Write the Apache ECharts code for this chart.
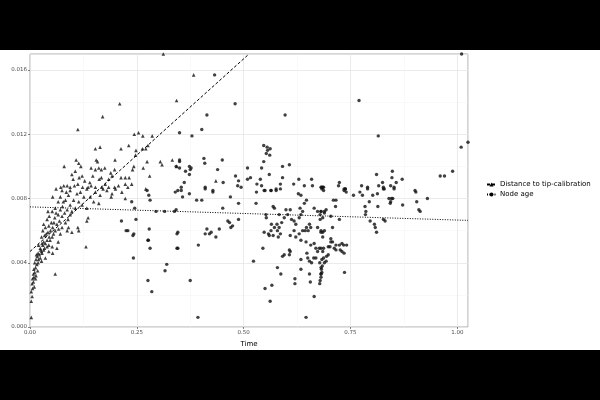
<!DOCTYPE html>
<html>
<head>
<meta charset="utf-8">
<script src="https://cdn.jsdelivr.net/npm/echarts@6/dist/echarts.min.js"></script>
<style>
  html, body { margin: 0; padding: 0; background: #fff; }
  #chart { width: 600px; height: 400px; }
</style>
</head>
<body>
<div id="chart"></div>
<script>
// axis ticks
var xTicks = [0, 0.25, 0.5, 0.75, 1.0]
var yTicks = [0, 0.004, 0.008, 0.012, 0.016]
var xMax = 1.025
var yMax = 0.017

// regression lines: [intercept, slope]
var tipFit = [0.0047, 0.024]
var nodeFit = [0.00748, -0.00082]

// Distance to tip-calibration (triangles)
var tipPoints = [
  [0.112, 0.0123], [0.170, 0.0131], [0.210, 0.0139], [0.343, 0.0141], [0.312, 0.0170],
  [0.383, 0.0157], [0.435, 0.0091],
  [0.244, 0.0120], [0.254, 0.0121], [0.264, 0.0119], [0.286, 0.0119],
  [0.153, 0.0111], [0.164, 0.0112], [0.213, 0.0111], [0.231, 0.0113], [0.248, 0.0110],
  [0.263, 0.0111], [0.271, 0.0111], [0.276, 0.0113], [0.080, 0.0100],
  [0.108, 0.0104], [0.114, 0.0102], [0.119, 0.0100],
  [0.143, 0.0099], [0.153, 0.0098], [0.161, 0.0099], [0.167, 0.0098], [0.175, 0.0099],
  [0.155, 0.0104], [0.158, 0.0103], [0.199, 0.0104], [0.247, 0.0107],
  [0.243, 0.0100], [0.240, 0.0098], [0.265, 0.0099], [0.274, 0.0103],
  [0.305, 0.0103], [0.309, 0.0101], [0.333, 0.0104], [0.343, 0.0100],
  [0.098, 0.0095], [0.106, 0.0097], [0.101, 0.0092], [0.115, 0.0093], [0.122, 0.0094],
  [0.147, 0.0094], [0.167, 0.0093], [0.162, 0.0092], [0.184, 0.0092], [0.189, 0.0096],
  [0.198, 0.0098], [0.192, 0.0094], [0.213, 0.0093], [0.223, 0.0093],
  [0.232, 0.0093], [0.238, 0.0089], [0.223, 0.0089], [0.280, 0.0094],
  [0.176, 0.0089], [0.168, 0.0087], [0.184, 0.0087], [0.198, 0.0087],
  [0.112, 0.0089], [0.123, 0.0087], [0.136, 0.0087], [0.143, 0.0088], [0.153, 0.0087],
  [0.061, 0.0086], [0.072, 0.0087], [0.079, 0.0088], [0.087, 0.0088], [0.094, 0.0087],
  [0.271, 0.0086], [0.229, 0.0087], [0.207, 0.0088],
  [0.003, 0.0006], [0.003, 0.0016], [0.005, 0.0019], [0.003, 0.0022], [0.006, 0.0024],
  [0.005, 0.0027], [0.008, 0.0028], [0.006, 0.0030], [0.009, 0.0031], [0.013, 0.0030],
  [0.008, 0.0033], [0.011, 0.0034], [0.014, 0.0032], [0.009, 0.0036], [0.013, 0.0037],
  [0.016, 0.0039], [0.011, 0.0040], [0.019, 0.0040], [0.014, 0.0042], [0.020, 0.0042],
  [0.017, 0.0044], [0.024, 0.0043], [0.022, 0.0045], [0.028, 0.0046], [0.019, 0.0046],
  [0.027, 0.0047], [0.032, 0.0048], [0.024, 0.0049], [0.034, 0.0049], [0.030, 0.0051],
  [0.040, 0.0050], [0.020, 0.0051], [0.028, 0.0052], [0.036, 0.0052], [0.044, 0.0051],
  [0.052, 0.0050], [0.063, 0.0049], [0.053, 0.0046], [0.032, 0.0053], [0.040, 0.0054],
  [0.027, 0.0056], [0.045, 0.0056], [0.034, 0.0057], [0.052, 0.0056], [0.066, 0.0053],
  [0.055, 0.0058], [0.042, 0.0059], [0.030, 0.0060], [0.048, 0.0060], [0.059, 0.0060],
  [0.036, 0.0062], [0.053, 0.0062], [0.067, 0.0061], [0.044, 0.0063], [0.063, 0.0064],
  [0.075, 0.0062], [0.032, 0.0064], [0.050, 0.0065], [0.069, 0.0066], [0.083, 0.0065],
  [0.040, 0.0067], [0.058, 0.0068], [0.075, 0.0069], [0.089, 0.0067], [0.045, 0.0069],
  [0.066, 0.0070], [0.081, 0.0071], [0.094, 0.0070], [0.052, 0.0072], [0.071, 0.0073],
  [0.087, 0.0073], [0.098, 0.0072], [0.042, 0.0072], [0.059, 0.0074], [0.076, 0.0075],
  [0.094, 0.0076], [0.106, 0.0074], [0.066, 0.0078], [0.083, 0.0079], [0.102, 0.0079],
  [0.114, 0.0078], [0.053, 0.0081], [0.071, 0.0081], [0.090, 0.0082], [0.110, 0.0083],
  [0.126, 0.0081], [0.141, 0.0081], [0.075, 0.0085], [0.094, 0.0085], [0.118, 0.0084],
  [0.133, 0.0086], [0.153, 0.0084], [0.164, 0.0082], [0.180, 0.0085], [0.192, 0.0083],
  [0.200, 0.0086], [0.149, 0.0078], [0.161, 0.0077], [0.122, 0.0076], [0.133, 0.0074],
  [0.090, 0.0062], [0.087, 0.0060], [0.098, 0.0059], [0.071, 0.0058], [0.044, 0.0047],
  [0.036, 0.0043], [0.027, 0.0041], [0.018, 0.0035], [0.010, 0.0025], [0.015, 0.0045],
  [0.131, 0.0050], [0.059, 0.0033], [0.112, 0.0062], [0.114, 0.0060], [0.136, 0.0068],
  [0.133, 0.0066], [0.171, 0.0086], [0.190, 0.0081], [0.215, 0.0084], [0.223, 0.0080],
  [0.056, 0.0065], [0.078, 0.0078], [0.038, 0.0058], [0.047, 0.0054], [0.025, 0.0048],
  [0.061, 0.0071], [0.085, 0.0084], [0.104, 0.0088], [0.128, 0.0091], [0.140, 0.0090]
]

// Node age (circles)
var nodePoints = [
  [0.432, 0.0157], [0.480, 0.0139], [0.414, 0.0132], [0.597, 0.0132], [0.350, 0.0121],
  [0.379, 0.0119], [0.402, 0.0123], [0.770, 0.0141], [0.815, 0.0119],
  [1.009, 0.0112], [1.025, 0.0115], [1.010, 0.0170],
  [0.547, 0.0113], [0.555, 0.0112], [0.562, 0.0111], [0.556, 0.0110], [0.553, 0.0108],
  [0.561, 0.0107], [0.547, 0.0103], [0.542, 0.0099],
  [0.350, 0.0104], [0.350, 0.0103], [0.342, 0.0100], [0.350, 0.0099],
  [0.373, 0.0100], [0.377, 0.0099], [0.375, 0.0098], [0.373, 0.0095], [0.364, 0.0097],
  [0.361, 0.0090], [0.354, 0.0087], [0.407, 0.0105], [0.409, 0.0102], [0.450, 0.0104],
  [0.439, 0.0098], [0.452, 0.0090], [0.410, 0.0087], [0.428, 0.0085],
  [0.481, 0.0094], [0.488, 0.0091], [0.486, 0.0088], [0.494, 0.0087],
  [0.509, 0.0099], [0.509, 0.0092], [0.516, 0.0093], [0.531, 0.0089], [0.539, 0.0092],
  [0.542, 0.0088], [0.560, 0.0095], [0.591, 0.0100], [0.607, 0.0101], [0.591, 0.0093],
  [0.586, 0.0089], [0.576, 0.0085], [0.564, 0.0085], [0.550, 0.0085],
  [0.629, 0.0092], [0.617, 0.0089], [0.642, 0.0088], [0.659, 0.0092], [0.661, 0.0088],
  [0.681, 0.0087], [0.685, 0.0087],
  [0.989, 0.0097], [0.960, 0.0094], [0.970, 0.0094],
  [0.848, 0.0097], [0.847, 0.0093], [0.857, 0.0090], [0.871, 0.0092], [0.852, 0.0087],
  [0.844, 0.0088], [0.811, 0.0095], [0.816, 0.0088], [0.825, 0.0090], [0.827, 0.0086],
  [0.790, 0.0087], [0.776, 0.0088], [0.724, 0.0090], [0.722, 0.0088], [0.735, 0.0086],
  [0.738, 0.0086], [0.683, 0.0087], [0.687, 0.0087], [0.901, 0.0085],
  [0.346, 0.0085], [0.354, 0.0085], [0.357, 0.0081], [0.373, 0.0083], [0.342, 0.0073],
  [0.390, 0.0079], [0.402, 0.0079], [0.410, 0.0086], [0.428, 0.0084], [0.451, 0.0074],
  [0.469, 0.0081], [0.488, 0.0077], [0.488, 0.0067], [0.463, 0.0066], [0.467, 0.0065],
  [0.474, 0.0063], [0.470, 0.0062], [0.443, 0.0061], [0.414, 0.0061], [0.424, 0.0059],
  [0.420, 0.0058], [0.410, 0.0058], [0.435, 0.0056], [0.346, 0.0059], [0.346, 0.0049],
  [0.394, 0.0051], [0.375, 0.0029], [0.393, 0.0006],
  [0.523, 0.0041], [0.545, 0.0049], [0.529, 0.0077], [0.530, 0.0084], [0.548, 0.0085],
  [0.564, 0.0085], [0.576, 0.0086], [0.586, 0.0086], [0.553, 0.0068], [0.569, 0.0075],
  [0.572, 0.0074], [0.579, 0.0037], [0.587, 0.0033], [0.550, 0.0024], [0.566, 0.0026],
  [0.562, 0.0016], [0.646, 0.0006], [0.665, 0.0019], [0.620, 0.0030], [0.620, 0.0027],
  [0.634, 0.0036], [0.654, 0.0033], [0.656, 0.0028], [0.681, 0.0033], [0.678, 0.0027],
  [0.682, 0.0036],
  [0.548, 0.0059], [0.558, 0.0058], [0.569, 0.0057], [0.579, 0.0060], [0.583, 0.0062],
  [0.586, 0.0058], [0.572, 0.0062], [0.565, 0.0064], [0.578, 0.0064], [0.589, 0.0065],
  [0.595, 0.0068], [0.603, 0.0070], [0.609, 0.0073], [0.599, 0.0073], [0.583, 0.0070],
  [0.612, 0.0067], [0.618, 0.0066], [0.622, 0.0064], [0.630, 0.0068], [0.634, 0.0070],
  [0.638, 0.0072], [0.632, 0.0074], [0.642, 0.0077], [0.647, 0.0079], [0.634, 0.0082],
  [0.628, 0.0083], [0.654, 0.0064], [0.657, 0.0062], [0.647, 0.0062], [0.651, 0.0060],
  [0.644, 0.0060], [0.638, 0.0060], [0.630, 0.0058], [0.618, 0.0060], [0.609, 0.0057],
  [0.622, 0.0056], [0.634, 0.0054], [0.646, 0.0053], [0.657, 0.0051], [0.665, 0.0052],
  [0.669, 0.0049], [0.677, 0.0049], [0.681, 0.0049], [0.673, 0.0047], [0.685, 0.0047],
  [0.648, 0.0046], [0.650, 0.0043], [0.664, 0.0043], [0.669, 0.0043], [0.654, 0.0041],
  [0.659, 0.0040], [0.634, 0.0042], [0.595, 0.0045], [0.591, 0.0044], [0.607, 0.0045],
  [0.609, 0.0047], [0.607, 0.0048], [0.581, 0.0056], [0.560, 0.0057], [0.564, 0.0060],
  [0.552, 0.0070], [0.665, 0.0074], [0.673, 0.0072], [0.681, 0.0072], [0.679, 0.0067],
  [0.673, 0.0062], [0.681, 0.0060], [0.685, 0.0056], [0.683, 0.0042], [0.678, 0.0040],
  [0.681, 0.0037],
  [0.683, 0.0086], [0.687, 0.0085], [0.735, 0.0085], [0.740, 0.0084], [0.738, 0.0086],
  [0.757, 0.0082], [0.772, 0.0084], [0.778, 0.0082], [0.790, 0.0086], [0.802, 0.0082],
  [0.813, 0.0083], [0.827, 0.0087], [0.829, 0.0086], [0.852, 0.0086], [0.840, 0.0080],
  [0.846, 0.0080], [0.844, 0.0078], [0.849, 0.0080], [0.843, 0.0077], [0.794, 0.0078],
  [0.814, 0.0075], [0.784, 0.0075], [0.786, 0.0072], [0.785, 0.0070], [0.796, 0.0066],
  [0.806, 0.0064], [0.808, 0.0062], [0.811, 0.0059], [0.827, 0.0067], [0.831, 0.0066],
  [0.872, 0.0076], [0.903, 0.0084], [0.905, 0.0078], [0.910, 0.0073], [0.913, 0.0072],
  [0.930, 0.0080], [0.710, 0.0079], [0.716, 0.0079], [0.715, 0.0075],
  [0.689, 0.0072], [0.693, 0.0073], [0.689, 0.0071], [0.681, 0.0072], [0.679, 0.0070],
  [0.685, 0.0068], [0.704, 0.0069], [0.724, 0.0067], [0.708, 0.0062], [0.689, 0.0060],
  [0.685, 0.0059], [0.681, 0.0059], [0.704, 0.0055], [0.708, 0.0053], [0.704, 0.0053],
  [0.730, 0.0052], [0.734, 0.0051], [0.741, 0.0051], [0.716, 0.0051], [0.724, 0.0051],
  [0.712, 0.0049], [0.716, 0.0048], [0.702, 0.0050], [0.698, 0.0050], [0.687, 0.0049],
  [0.726, 0.0048], [0.730, 0.0047], [0.735, 0.0046], [0.698, 0.0045], [0.694, 0.0044],
  [0.687, 0.0043], [0.693, 0.0041], [0.689, 0.0040], [0.684, 0.0038], [0.683, 0.0034],
  [0.681, 0.0033], [0.681, 0.0031], [0.679, 0.0029], [0.736, 0.0034],
  [0.214, 0.0066], [0.225, 0.0060], [0.229, 0.0060], [0.243, 0.0058], [0.241, 0.0057],
  [0.242, 0.0043], [0.248, 0.0067], [0.238, 0.0078], [0.245, 0.0074], [0.274, 0.0085],
  [0.278, 0.0082], [0.281, 0.0079], [0.295, 0.0072], [0.315, 0.0072], [0.338, 0.0072],
  [0.340, 0.0084], [0.279, 0.0061], [0.277, 0.0054], [0.276, 0.0054], [0.281, 0.0049],
  [0.344, 0.0058], [0.344, 0.0049], [0.320, 0.0039], [0.316, 0.0035], [0.276, 0.0029],
  [0.285, 0.0022]
]

function fitLine(fit) {
  // endpoints of the fitted line, cut at the panel's edges
  var x1 = xMax
  var y1 = fit[0] + fit[1] * x1
  if (y1 > yMax) {
    x1 = (yMax - fit[0]) / fit[1]
    y1 = yMax
  }
  return [[0, fit[0]], [x1, y1]]
}

var chart = echarts.init(document.getElementById('chart'))
var labelStyle = { fontFamily: 'DejaVu Sans', fontSize: 5.5, color: '#4d4d4d' }

var option = {
  animation: false,
  backgroundColor: '#fff',
  textStyle: { fontFamily: 'DejaVu Sans' },
  graphic: [
    { type: 'rect', left: 0, top: 0, shape: { width: 600, height: 50 }, style: { fill: '#000' }, z: 100 },
    { type: 'rect', left: 0, top: 350, shape: { width: 600, height: 50 }, style: { fill: '#000' }, z: 100 }
  ],
  grid: {
    left: 30, right: 132, top: 54, bottom: 73,
    outerBoundsMode: 'none', containLabel: false,
    show: true, borderColor: '#aaaaaa', borderWidth: 1, backgroundColor: '#fff'
  },
  legend: {
    orient: 'vertical',
    left: 486, top: 181, padding: 0,
    itemWidth: 9, itemHeight: 5, itemGap: 3,
    textStyle: { fontFamily: 'DejaVu Sans', fontSize: 7, color: '#000', padding: [0, 0, 0, -1] },
    data: ['Distance to tip-calibration', 'Node age']
  },
  xAxis: {
    type: 'value', min: 0, max: xMax, interval: 0.25,
    name: 'Time', nameLocation: 'middle', nameGap: 14,
    nameTextStyle: { fontFamily: 'DejaVu Sans', fontSize: 7, color: '#000' },
    axisLine: { show: false },
    axisTick: { show: true, length: 2, lineStyle: { color: '#333', width: 0.6 } },
    axisLabel: Object.assign({ margin: 3, showMaxLabel: false, formatter: function (v) { return v.toFixed(2) } }, labelStyle),
    splitLine: { show: true, lineStyle: { color: '#e6e6e6', width: 0.8 } },
    minorTick: { show: false, splitNumber: 2 },
    minorSplitLine: { show: true, lineStyle: { color: '#f3f3f3', width: 0.5 } }
  },
  yAxis: {
    type: 'value', min: 0, max: yMax, interval: 0.004,
    name: '95% HPD width', nameLocation: 'middle', nameGap: 21, nameRotate: 90,
    nameTextStyle: { fontFamily: 'DejaVu Sans', fontSize: 6.5, color: '#000' },
    axisLine: { show: false },
    axisTick: { show: true, length: 2, lineStyle: { color: '#333', width: 0.6 } },
    axisLabel: Object.assign({ margin: 3, showMaxLabel: false, formatter: function (v) { return v.toFixed(3) } }, labelStyle),
    splitLine: { show: true, lineStyle: { color: '#e6e6e6', width: 0.8 } },
    minorTick: { show: false, splitNumber: 2 },
    minorSplitLine: { show: true, lineStyle: { color: '#f3f3f3', width: 0.5 } }
  },
  series: [
    {
      name: 'Distance to tip-calibration', type: 'line', z: 4,
      data: fitLine(tipFit),
      symbol: 'triangle', symbolSize: 4, showSymbol: false,
      itemStyle: { color: '#000' },
      lineStyle: { color: '#000', width: 1, type: [3, 2] }
    },
    {
      name: 'Node age', type: 'line', z: 4,
      data: fitLine(nodeFit),
      symbol: 'circle', symbolSize: 4, showSymbol: false,
      itemStyle: { color: '#000' },
      lineStyle: { color: '#000', width: 1, type: [1, 1.5] }
    },
    {
      name: 'Distance to tip-calibration', type: 'scatter',
      data: tipPoints, symbol: 'triangle', symbolSize: 3.6,
      itemStyle: { color: '#111' }
    },
    {
      name: 'Node age', type: 'scatter',
      data: nodePoints, symbol: 'circle', symbolSize: 3.4,
      itemStyle: { color: '#111' }
    }
  ]
}
chart.setOption(option)
</script>
</body>
</html>
